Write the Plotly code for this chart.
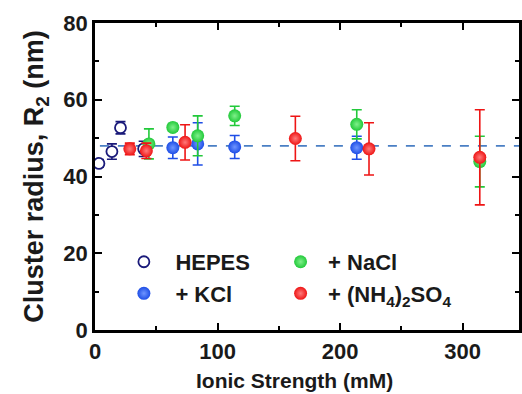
import plotly.graph_objects as go

# ---------------- data ----------------
hepes_x = [3.2, 13.8, 20.8, 39.7]
hepes_y = [43.4, 46.5, 52.7, 47.2]
hepes_err = [1.0, 2.0, 1.6, 2.0]

kcl_x = [63.5, 83.8, 114.0, 213.6]
kcl_y = [47.5, 48.5, 47.7, 47.5]
kcl_err = [2.8, 5.5, 3.0, 3.0]

nacl_x = [44.0, 63.5, 83.8, 114.0, 213.6, 314.0]
nacl_y = [48.5, 52.8, 50.6, 55.8, 53.6, 43.9]
nacl_err = [3.9, 1.0, 5.2, 2.5, 3.8, 6.6]

amsulf_x = [28.4, 41.9, 73.5, 163.5, 223.6, 314.0]
amsulf_y = [47.2, 46.7, 48.9, 49.9, 47.2, 45.0]
amsulf_err = [1.5, 2.0, 4.6, 5.8, 6.8, 12.4]

fit_x = [4, 350]
fit_y = 48.0

x_ticks = [0, 100, 200, 300]
y_ticks = [0, 20, 40, 60, 80]

FONT = "Arial, Liberation Sans, sans-serif"
TXT = "#1a1a1a"
NAVY = "#1a1a7a"
BLUE = "#1e4ee6"
GREEN = "#22c93a"
RED = "#ee1515"

fig = go.Figure()

fig.add_trace(go.Scatter(
    x=fit_x, y=[fit_y, fit_y], mode="lines",
    line=dict(color="#4a7fc4", width=1.8, dash="dash"),
    showlegend=False, hoverinfo="skip"))


def ball(x, y, err, color, light, name, legend):
    fig.add_trace(go.Scatter(
        x=x, y=y, mode="markers", name=name, legend=legend,
        error_y=dict(type="data", array=err, color=color, thickness=1.6, width=5),
        marker=dict(size=13, color=color, line=dict(width=0),
                    gradient=dict(type="radial", color=light))))


fig.add_trace(go.Scatter(
    x=hepes_x, y=hepes_y, mode="markers", name="HEPES", legend="legend",
    error_y=dict(type="data", array=hepes_err, color=NAVY, thickness=1.6, width=5),
    marker=dict(size=11, color="white", symbol="circle",
                line=dict(width=1.8, color=NAVY))))
ball(kcl_x, kcl_y, kcl_err, BLUE, "#6f95ff", "+ KCl", "legend")
ball(nacl_x, nacl_y, nacl_err, GREEN, "#7ff08a", "+ NaCl", "legend2")
ball(amsulf_x, amsulf_y, amsulf_err, RED, "#ff7a7a", "+ (NH<sub>4</sub>)<sub>2</sub>SO<sub>4</sub>", "legend2")

axis_common = dict(
    showline=True, linecolor="black", linewidth=2.5, mirror="ticks",
    ticks="inside", ticklen=7, tickwidth=2, tickcolor="black",
    showgrid=False, zeroline=False,
    tickfont=dict(family=FONT, size=22, color=TXT, weight="bold"),
)

legend_font = dict(family=FONT, size=22, color=TXT, weight="bold")

fig.update_layout(
    width=522, height=394,
    margin=dict(l=95, r=0, t=23, b=64),
    paper_bgcolor="white", plot_bgcolor="white",
    font=dict(family=FONT, color=TXT),
    xaxis=dict(range=[0, 346], tickvals=x_ticks,
               minor=dict(dtick=50, ticks="inside", ticklen=4, tickwidth=2, tickcolor="black"),
               **axis_common),
    yaxis=dict(range=[0, 80], tickvals=y_ticks,
               minor=dict(dtick=10, ticks="inside", ticklen=4, tickwidth=2, tickcolor="black"),
               title=dict(text="<b>Cluster radius, R<sub>2</sub> (nm)</b>",
                          font=dict(family=FONT, size=27, color=TXT), standoff=12),
               **axis_common),
    legend=dict(x=0.041, y=0.29, xanchor="left", yanchor="top", itemwidth=53,
                bgcolor="rgba(0,0,0,0)", tracegroupgap=0, font=legend_font),
    legend2=dict(x=0.420, y=0.29, xanchor="left", yanchor="top", itemwidth=45,
                 bgcolor="rgba(0,0,0,0)", tracegroupgap=0, font=legend_font),
    annotations=[dict(text="<b>Ionic Strength (mM)</b>", xref="paper", yref="paper",
                      x=0.471, y=-0.163, xanchor="center", yanchor="middle", showarrow=False,
                      font=dict(family=FONT, size=21, color=TXT))],
)

fig.write_html("out.html")
